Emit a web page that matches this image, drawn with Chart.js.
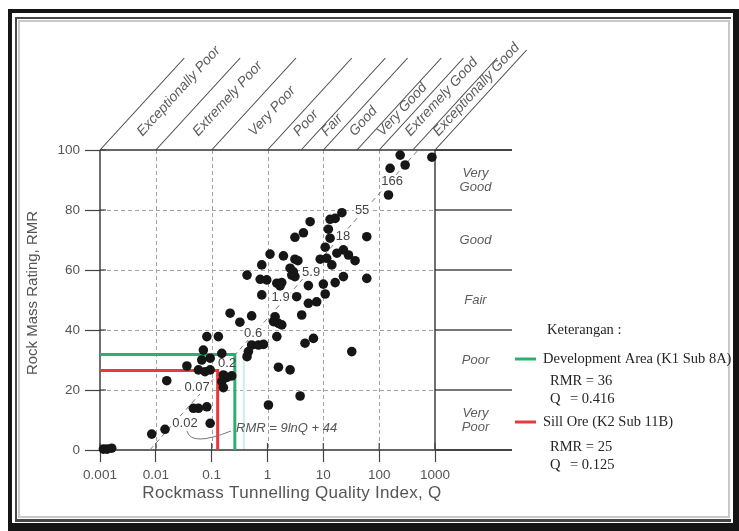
<!DOCTYPE html>
<html><head><meta charset="utf-8">
<script src="https://cdn.jsdelivr.net/npm/chart.js@4.4.1/dist/chart.umd.min.js"></script>
<style>html,body{margin:0;padding:0;background:#fff;}canvas{display:block;}</style>
</head><body>
<canvas id="c" width="739" height="531"></canvas>
<script>
// ---------- data ----------
const qTickValues = [0.001, 0.01, 0.1, 1, 10, 100, 1000];
const qTickLabels = ['0.001', '0.01', '0.1', '1', '10', '100', '1000'];
const rmrTickValues = [0, 20, 40, 60, 80, 100];
const rmrTickLabels = ['0', '20', '40', '60', '80', '100'];

const qClassBounds = [0.001, 0.01, 0.1, 1, 4, 10, 40, 100, 400, 1000];
const qClassNames = ['Exceptionally Poor', 'Extremely Poor', 'Very Poor', 'Poor', 'Fair', 'Good', 'Very Good', 'Extremely Good', 'Exceptionally Good'];
const rmrClassBounds = [0, 20, 40, 60, 80, 100];
const rmrClassNames = [['Very', 'Poor'], ['Poor'], ['Fair'], ['Good'], ['Very', 'Good']];

const caseQ = [880, 238, 292, 157, 147, 21.5, 16.3, 13.2, 5.8, 4.4, 3.1, 12.3, 13.2, 60, 10.8, 17.5, 22.9, 28.2, 37,
  1.11, 1.93, 3.1, 3.5, 8.8, 11.5, 14.2, 0.79, 2.54, 2.91, 2.72, 3.1, 0.43, 0.74, 0.97, 1.47, 1.8, 1.68, 5.4, 10, 16.3,
  22.9, 60, 0.79, 3.33, 10.8, 5.4, 7.6, 4.1, 0.214, 0.32, 0.52, 1.37, 1.28, 1.57, 1.8, 1.47, 6.65, 4.7, 32.3,
  0.082, 0.132, 0.071, 0.0665, 0.094, 0.152, 0.52, 0.69, 0.85, 0.455, 0.43, 0.036, 0.058, 0.076, 0.094, 0.162, 0.187,
  0.229, 0.152, 0.162, 0.0157, 1.57, 2.54, 3.84, 1.04, 0.047, 0.058, 0.082, 0.094, 0.00845, 0.0146, 0.00115, 0.00162, 0.00134];
const caseRMR = [97.6, 98.3, 95, 93.9, 85, 79.1, 77.2, 76.9, 76.1, 72.4, 70.9, 73.6, 70.6, 71.1, 67.6, 65.6, 66.7, 65, 63.1,
  65.3, 64.7, 63.6, 63.1, 63.6, 63.9, 61.7, 61.7, 60.6, 59.4, 58.3, 57.8, 58.3, 56.9, 56.7, 55.6, 55.8, 54.7, 54.8, 55.3, 55.8,
  57.8, 57.2, 51.7, 51.1, 52, 48.9, 49.4, 45, 45.6, 42.6, 44.7, 44.4, 42.8, 42.2, 41.7, 37.8, 37.2, 35.6, 32.8,
  37.8, 37.8, 33.3, 30, 30.6, 32.2, 35, 35, 35.2, 32.8, 31.1, 28, 26.7, 26.1, 26.7, 25, 24.2,
  24.7, 22.8, 20.8, 23.1, 27.6, 26.7, 18, 15, 13.9, 13.9, 14.4, 8.9, 5.3, 6.9, 0.3, 0.6, 0.3];

// dashed correlation line RMR = 9 ln Q + 44 (end points)
const fitQ = [0.0078, 500];
const fitRMR = [0, 100];
const fitLabelText = ['0.02', '0.07', '0.2', '0.6', '1.9', '5.9', '18', '55', '166'];
const fitLabelQ = [0.0333, 0.0547, 0.189, 0.552, 1.72, 6.04, 22.6, 49.5, 171];
const fitLabelRMR = [9, 21, 29, 39, 51, 59.3, 71.3, 80, 89.4];

// site readings drawn on the chart
const devPathQ = [0.001, 0.26, 0.26];
const devPathRMR = [31.8, 31.8, 0];
const sillPathQ = [0.001, 0.128, 0.128];
const sillPathRMR = [26.5, 26.5, 0];

const legendTitle = 'Keterangan :';
const legendItems = [
  {name: 'Development Area (K1 Sub 8A)', rmr: '36', q: '0.416', color: '#2fae74'},
  {name: 'Sill Ore (K2 Sub 11B)', rmr: '25', q: '0.125', color: '#e8393f'}
];

// ---------- build ----------
const pts = (xs, ys) => xs.map((v, i) => ({x: v, y: ys[i]}));
const SANS = "'Liberation Sans', Arial, Helvetica, sans-serif";
const SERIF = "'Liberation Serif', 'Times New Roman', serif";

function seg(c, x1, y1, x2, y2) { c.beginPath(); c.moveTo(x1, y1); c.lineTo(x2, y2); c.stroke(); }

function fitLabelBoxes(chart, withText) {
  const c = chart.ctx, xs = chart.scales.x, ys = chart.scales.y;
  c.save();
  c.font = '13px ' + SANS; c.textAlign = 'center'; c.textBaseline = 'middle';
  fitLabelText.forEach((t, i) => {
    const px = xs.getPixelForValue(fitLabelQ[i]), py = ys.getPixelForValue(fitLabelRMR[i]);
    const w = c.measureText(t).width;
    if (!withText) { c.fillStyle = '#fff'; c.fillRect(px - w / 2 - 1, py - 7, w + 2, 14); }
    else { c.fillStyle = '#444'; c.fillText(t, px, py); }
  });
  c.restore();
}

const decor = {
  id: 'decor',
  beforeDraw(chart) {
    const c = chart.ctx;
    c.save();
    c.fillStyle = '#fff';
    c.fillRect(0, 0, chart.width, chart.height);
    // double frame of the scanned figure
    c.fillStyle = '#c8c8c8';
    c.fillRect(18, 20, 712, 2);
    c.fillRect(18, 20, 2, 498);
    c.fillRect(18, 516, 712, 2);
    c.fillRect(728, 20, 2, 498);
    c.fillStyle = '#474747';
    c.fillRect(15, 17, 716, 2);
    c.fillRect(15, 17, 2, 505);
    c.fillRect(15, 519, 716, 3);
    c.fillStyle = '#151515';
    c.fillRect(8, 9, 731, 4);
    c.fillRect(8, 9, 4, 522);
    c.fillRect(733, 9, 6, 522);
    c.fillRect(8, 523, 731, 8);
    c.restore();
  },
  beforeDatasetsDraw(chart) {
    const c = chart.ctx, xs = chart.scales.x, ys = chart.scales.y;
    const X = v => xs.getPixelForValue(v), Y = v => ys.getPixelForValue(v);
    const L = X(0.001), R = X(1000), T = Y(100), B = Y(0);
    const colR = R + 77;
    c.save();
    // dashed grid
    c.strokeStyle = '#a3a3a3'; c.lineWidth = 1; c.setLineDash([4, 3]);
    qTickValues.slice(1, -1).forEach(v => { const p = Math.round(X(v)) + 0.5; seg(c, p, T, p, B); });
    rmrTickValues.slice(1, -1).forEach(v => { const p = Math.round(Y(v)) + 0.5; seg(c, L, p, R, p); });
    c.setLineDash([]);
    // right column (RMR classes)
    c.strokeStyle = '#4a4a4a'; c.lineWidth = 1.4;
    rmrClassBounds.forEach(v => seg(c, R, Y(v), colR, Y(v)));
    // frame lines
    c.strokeStyle = '#333'; c.lineWidth = 1.4;
    seg(c, L, T, colR, T); seg(c, L, B, colR, B); seg(c, L, T, L, B); seg(c, R, T, R, B);
    // tick marks crossing into the plot
    c.lineWidth = 1.2; c.strokeStyle = '#444';
    rmrTickValues.forEach(v => seg(c, L, Y(v), L + 6, Y(v)));
    qTickValues.forEach(v => seg(c, X(v), B - 7, X(v), B));
    // diagonal Q-class lines
    const ang = 47.5 * Math.PI / 180;
    c.strokeStyle = '#4a4a4a'; c.lineWidth = 1.1;
    qClassBounds.forEach((v, i) => {
      const top = i === qClassBounds.length - 1 ? 50 : 58;
      const x0 = X(v);
      seg(c, x0, T, x0 + (T - top) / Math.tan(ang), top);
    });
    // Q-class labels
    c.fillStyle = '#5c5c5c'; c.font = 'italic 14px ' + SANS;
    c.textAlign = 'left'; c.textBaseline = 'middle';
    qClassNames.forEach((name, i) => {
      const cx = (X(qClassBounds[i]) + X(qClassBounds[i + 1])) / 2 - 3;
      const up = 16;
      c.save();
      c.translate(cx + up / Math.tan(ang), T - up);
      c.rotate(-ang);
      c.fillText(name, 0, 0);
      c.restore();
    });
    // RMR-class labels
    c.font = 'italic 13px ' + SANS; c.textAlign = 'center';
    rmrClassNames.forEach((lines, i) => {
      const cy = (Y(rmrClassBounds[i]) + Y(rmrClassBounds[i + 1])) / 2;
      const mid = (R + colR) / 2 + 2;
      lines.forEach((t, k) => c.fillText(t, mid, cy + (k - (lines.length - 1) / 2) * 14));
    });
    // faint colour fringe of the scan next to the green reading line
    c.strokeStyle = '#cdeff0'; c.lineWidth = 2;
    const gx = X(devPathQ[1]) + 9;
    seg(c, gx, Y(devPathRMR[0]) + 1, gx, B - 1);
    c.restore();
  },
  afterDatasetDraw(chart, args) {
    if (args.index === 0) fitLabelBoxes(chart, false);
    if (args.index === 2) fitLabelBoxes(chart, true);
  },
  afterDraw(chart) {
    const c = chart.ctx;
    c.save();
    // axis titles
    c.fillStyle = '#555'; c.textAlign = 'center'; c.textBaseline = 'middle';
    c.font = '17px ' + SANS;
    try { c.letterSpacing = '0.3px'; } catch (e) {}
    c.fillText('Rockmass Tunnelling Quality Index, Q', 292, 493);
    try { c.letterSpacing = '0px'; } catch (e) {}
    c.save();
    c.translate(33, 293); c.rotate(-Math.PI / 2);
    c.font = '15px ' + SANS;
    c.fillText('Rock Mass Rating, RMR', 0, 0);
    c.restore();
    // correlation annotation
    c.strokeStyle = '#777'; c.lineWidth = 1;
    c.beginPath(); c.moveTo(187, 431); c.quadraticCurveTo(191, 447, 231, 431); c.stroke();
    c.font = 'italic 13px ' + SANS; c.textAlign = 'left'; c.fillStyle = '#555';
    c.fillText('RMR = 9lnQ + 44', 236, 428);
    // legend
    c.fillStyle = '#262626'; c.font = '14.5px ' + SERIF;
    c.fillText(legendTitle, 547, 330);
    const rows = [[359, 381, 399], [422, 447, 465]];
    legendItems.forEach((it, i) => {
      const [yName, yR, yQ] = rows[i];
      c.strokeStyle = it.color; c.lineWidth = 3;
      seg(c, 515, yName, 536, yName);
      c.fillText(it.name, 543, yName);
      c.fillText('RMR = ' + it.rmr, 550, yR);
      c.fillText('Q', 550, yQ);
      c.fillText('= ' + it.q, 570, yQ);
    });
    c.restore();
  }
};

new Chart(document.getElementById('c'), {
  type: 'scatter',
  data: {
    datasets: [
      {label: 'RMR = 9lnQ + 44', type: 'line', data: pts(fitQ, fitRMR), showLine: true, borderColor: '#7a7a7a',
        borderWidth: 1, borderDash: [5, 4], pointRadius: 0, order: 5, clip: false},
      {label: 'Development Area', type: 'line', data: pts(devPathQ, devPathRMR), showLine: true, borderColor: '#2fae74',
        borderWidth: 3, pointRadius: 0, order: 4, tension: 0, borderJoinStyle: 'miter'},
      {label: 'Sill Ore', type: 'line', data: pts(sillPathQ, sillPathRMR), showLine: true, borderColor: '#e8393f',
        borderWidth: 3, pointRadius: 0, order: 3, tension: 0, borderJoinStyle: 'miter'},
      {label: 'Case histories', data: pts(caseQ, caseRMR), pointRadius: 4.8, pointHoverRadius: 4.8,
        backgroundColor: '#161616', borderWidth: 0, order: 1, clip: false}
    ]
  },
  options: {
    responsive: false, animation: false, devicePixelRatio: 1,
    layout: {padding: {left: 20, top: 150, right: 304, bottom: 30}},
    plugins: {legend: {display: false}, tooltip: {enabled: false}},
    events: [],
    scales: {
      x: {
        type: 'logarithmic', min: 0.001, max: 1000,
        afterBuildTicks: s => { s.ticks = qTickValues.map(v => ({value: v})); },
        afterFit: s => { s.height = 51; },
        ticks: {autoSkip: false, maxRotation: 0, minRotation: 0, padding: 5, color: '#555',
          font: {family: SANS, size: 13.5},
          callback: (v) => { const i = qTickValues.indexOf(v); return i >= 0 ? qTickLabels[i] : ''; }},
        grid: {drawOnChartArea: false, drawTicks: true, tickLength: 12, tickColor: '#444', tickWidth: 1.2},
        border: {display: false}
      },
      y: {
        type: 'linear', min: 0, max: 100,
        afterBuildTicks: s => { s.ticks = rmrTickValues.map(v => ({value: v})); },
        afterFit: s => { s.width = 80; },
        ticks: {padding: 5, color: '#555', font: {family: SANS, size: 13.5},
          callback: (v) => { const i = rmrTickValues.indexOf(v); return i >= 0 ? rmrTickLabels[i] : ''; }},
        grid: {drawOnChartArea: false, drawTicks: true, tickLength: 15, tickColor: '#444', tickWidth: 1.2},
        border: {display: false}
      }
    }
  },
  plugins: [decor]
});
</script>
</body></html>
